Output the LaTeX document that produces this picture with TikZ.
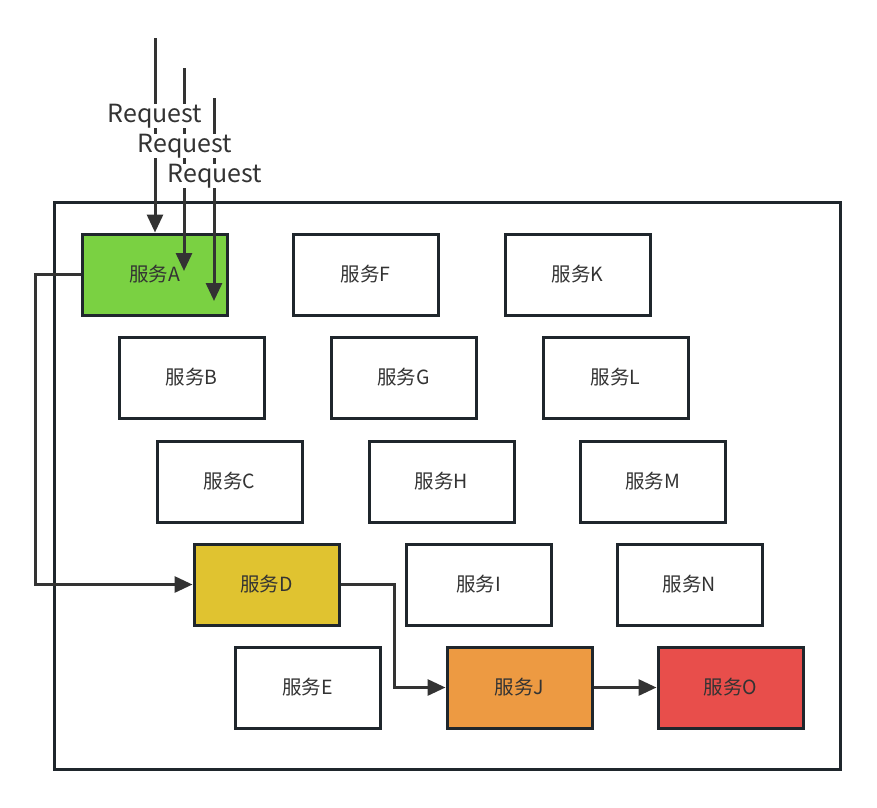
\documentclass[tikz,border=0pt]{standalone}
\usepackage{fontspec}
\setmainfont{Noto Sans CJK SC}
\usetikzlibrary{arrows.meta}
\definecolor{edge}{HTML}{333333}
\definecolor{bord}{HTML}{1F262C}
\definecolor{cA}{HTML}{7AD142}
\definecolor{cD}{HTML}{E0C330}
\definecolor{cJ}{HTML}{ED9A42}
\definecolor{cO}{HTML}{E84E4B}
\definecolor{txt}{HTML}{333333}
\tikzset{
  svc/.style={draw=bord, line width=3pt, minimum width=145pt, minimum height=81pt, inner sep=0pt, font=\fontsize{19.5pt}{22pt}\selectfont, text=txt, fill=white},
  conn/.style={draw=edge, line width=3pt, -{Triangle[length=18pt,width=16pt]}},
  req/.style={fill=white, inner sep=0.3pt, font=\fontsize{25pt}{28pt}\selectfont, text=txt},
}
\begin{document}
\begin{tikzpicture}[x=1pt,y=-1pt]
\useasboundingbox (0,0) rectangle (877,807);
\node[draw=bord, line width=3pt, minimum width=786pt, minimum height=567pt, inner sep=0pt] (frame) at (447,485.5) {};
\node[svc, fill=cA] (A) at (154.5,274.5) {服务A};
\node[svc] (F) at (365.5,274.5) {服务F};
\node[svc] (K) at (577.5,274.5) {服务K};
\node[svc] (B) at (191.5,377.5) {服务B};
\node[svc] (G) at (403.5,377.5) {服务G};
\node[svc] (L) at (615.5,377.5) {服务L};
\node[svc] (C) at (229.5,481.5) {服务C};
\node[svc] (H) at (441.5,481.5) {服务H};
\node[svc] (M) at (652.5,481.5) {服务M};
\node[svc, fill=cD] (D) at (266.5,584.5) {服务D};
\node[svc] (I) at (478.5,584.5) {服务I};
\node[svc] (N) at (689.5,584.5) {服务N};
\node[svc] (E) at (307.5,687.5) {服务E};
\node[svc, fill=cJ] (J) at (519.5,687.5) {服务J};
\node[svc, fill=cO] (O) at (730.5,687.5) {服务O};
% connectors between services
\draw[conn] (A.west) -- ++(-45,0) |- (D.west);
\draw[conn] (D.east) -- ++(54,0) |- (J.west);
\draw[conn] (J) -- (O);
% requests
\coordinate (r1s) at (155,38);
\coordinate (r2s) at (184,68);
\coordinate (r2e) at (184,271);
\coordinate (r3s) at (214,98);
\coordinate (r3e) at (214,301);
\draw[conn] (r1s) -- (A.north -| r1s);
\draw[conn] (r2s) -- (r2e);
\draw[conn] (r3s) -- (r3e);
\node[req] (q1) at (155,116) {Request};
\node[req] (q2) at (185,146) {Request};
\node[req] (q3) at (215,176) {Request};
\end{tikzpicture}
\end{document}
